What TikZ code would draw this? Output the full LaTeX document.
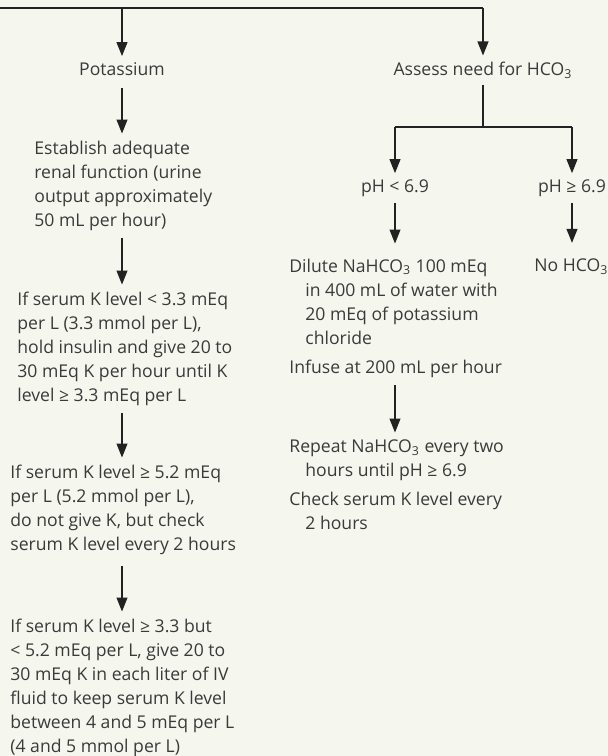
\documentclass[tikz,border=0pt]{standalone}
\usepackage{fontspec}
\setmainfont{Open Sans}
\usepackage{xcolor}
\usetikzlibrary{arrows.meta,positioning}
\definecolor{bgcream}{HTML}{F5F6EE}
\definecolor{inkgray}{HTML}{3A3A3A}
\definecolor{linegray}{HTML}{222222}

\begin{document}
\begin{tikzpicture}[
  x=0.5pt,y=-0.5pt,
  txt/.style={font=\fontsize{8.8}{12}\selectfont,text=inkgray,inner xsep=0pt,
    inner ysep=3.5pt,align=left,anchor=north west},
  lbl/.style={font=\fontsize{8.8}{12}\selectfont,text=inkgray,inner xsep=0pt,
    inner ysep=3pt},
  link/.style={draw=linegray,line width=0.55pt},
  arr/.style={link,-{Triangle[length=7pt,width=5.5pt]}}
]
\useasboundingbox[fill=bgcream] (0,0) rectangle (608,756);

\coordinate (start) at (0,8);
\coordinate (kcol) at (122,8);
\coordinate (hcol) at (483,8);
\coordinate (split) at (483,127);

\node[lbl] (potassium) at (122,69) {Potassium};
\node[lbl] (assess) at (483,70) {Assess need for HCO\textsubscript{3}};

\node[txt] (renal) at (34,133.5)
  {Establish adequate\\renal function (urine\\output approximately\\50 mL per hour)};
\node[txt] (lowk) at (17,284.5)
  {If serum K level < 3.3 mEq\\per L (3.3 mmol per L),\\hold insulin and give 20 to\\
   30 mEq K per hour until K\\level ≥ 3.3 mEq per L};
\node[txt] (highk) at (10,457.5)
  {If serum K level ≥ 5.2 mEq\\per L (5.2 mmol per L),\\do not give K, but check\\
   serum K level every 2 hours};
\node[txt] (midk) at (10,611.5)
  {If serum K level ≥ 3.3 but\\< 5.2 mEq per L, give 20 to\\30 mEq K in each liter of IV\\
   fluid to keep serum K level\\between 4 and 5 mEq per L\\(4 and 5 mmol per L)};

\node[lbl] (lowph) at (395,188) {pH < 6.9};
\node[lbl] (highph) at (572,188) {pH ≥ 6.9};
\node[lbl,anchor=west] (nohco) at (534,267) {No HCO\textsubscript{3}};

\node[txt] (dilute) at (289,251.5)
  {Dilute NaHCO\textsubscript{3} 100 mEq\\\hspace*{8pt}in 400 mL of water with\\
   \hspace*{8pt}20 mEq of potassium\\\hspace*{8pt}chloride};
\node[txt] (infuse) at (289,352.5) {Infuse at 200 mL per hour};
\node[txt] (repeat) at (289,432.5)
  {Repeat NaHCO\textsubscript{3} every two\\\hspace*{8pt}hours until pH ≥ 6.9};
\node[txt] (check) at (289,484.5)
  {Check serum K level every\\\hspace*{8pt}2 hours};

\draw[link] (start) -- (hcol);
\draw[arr] (kcol) -- (potassium);
\draw[arr] (hcol) -- (assess);

\draw[arr,shorten <=3pt] (potassium) -- (potassium |- renal.north);
\draw[arr] (renal.south -| kcol) -- (lowk.north -| kcol);
\draw[arr] (lowk.south -| kcol) -- (highk.north -| kcol);
\draw[arr,shorten <=2pt] (highk.south -| kcol) -- (midk.north -| kcol);

\draw[link] (assess) -- (split);
\draw[link] (lowph |- split) -- (highph |- split);
\draw[arr] (lowph |- split) -- (lowph);
\draw[arr] (highph |- split) -- (highph);
\draw[arr,shorten >=4pt] (lowph) -- (lowph |- dilute.north);
\draw[arr,shorten >=5pt] (highph) -- (highph |- nohco.north);
\draw[arr] (infuse.south -| lowph) -- (repeat.north -| lowph);
\end{tikzpicture}
\end{document}
